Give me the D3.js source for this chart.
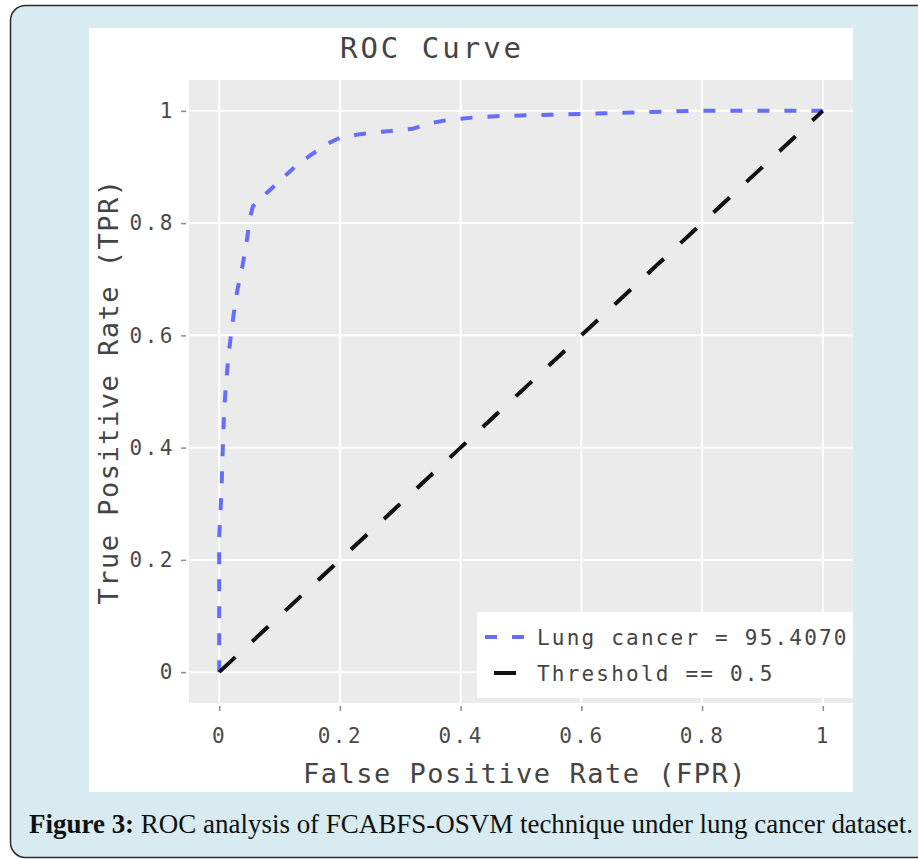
<!DOCTYPE html>
<html>
<head>
<meta charset="utf-8">
<script src="https://cdn.jsdelivr.net/npm/d3@7"></script>
<style>
    body { margin: 0; background: #fff; }
    svg { display: block; }
</style>
</head>
<body>
<svg id="RocChart"></svg>
<script>
// values
let fprValues = [0, 0, 0.002, 0.004, 0.006, 0.008, 0.011, 0.016, 0.023, 0.03, 0.038, 0.046, 0.051, 0.056,
    0.07, 0.085, 0.105, 0.125, 0.15, 0.18, 0.2, 0.23, 0.27, 0.32, 0.35, 0.38, 0.42, 0.47, 0.55, 0.65, 0.75, 0.8, 1];
let tprValues = [0, 0.24, 0.28, 0.33, 0.40, 0.46, 0.51, 0.57, 0.63, 0.68, 0.72, 0.77, 0.81, 0.83,
    0.845, 0.86, 0.88, 0.9, 0.92, 0.942, 0.952, 0.958, 0.963, 0.968, 0.978, 0.984, 0.988, 0.991, 0.993, 0.996, 0.999, 1, 1];
let thresholdX = [0, 1];
let thresholdY = [0, 1];

let xTickValues = [0, 0.2, 0.4, 0.6, 0.8, 1];
let xTickLabels = ["0", "0.2", "0.4", "0.6", "0.8", "1"];
let yTickValues = [0, 0.2, 0.4, 0.6, 0.8, 1];
let yTickLabels = ["0", "0.2", "0.4", "0.6", "0.8", "1"];

let seriesNames = ["Lung cancer = 95.4070", "Threshold == 0.5"];
let seriesColors = ["#636efa", "#111111"];
let seriesDashes = ["12,15", "22,23"];

let chartTitle = "ROC Curve";
let xTitle = "False Positive Rate (FPR)";
let yTitle = "True Positive Rate (TPR)";
let captionBold = "Figure 3:";
let captionText = " ROC analysis of FCABFS-OSVM technique under lung cancer dataset.";

const MONO = "'DejaVu Sans Mono', 'Liberation Mono', monospace";

function getConfig() {
    let width = 918;
    let height = 859;
    // grey plotting panel
    let panel = { left: 189, top: 80, right: 853, bottom: 703 };
    let container = d3.select("#RocChart")
        .attr("width", width)
        .attr("height", height);
    return { width, height, panel, container };
}

function getScales(config) {
    let { panel } = config;
    let xScale = d3.scaleLinear()
        .domain([-0.05, 1.05])
        .range([panel.left, panel.right]);
    let yScale = d3.scaleLinear()
        .domain([-0.055, 1.055])
        .range([panel.bottom, panel.top]);
    return { xScale, yScale };
}

function drawFrame(config) {
    let { container } = config;
    container.append("rect")
        .attr("x", 10.5).attr("y", 5.5)
        .attr("width", 930).attr("height", 852)
        .attr("rx", 15)
        .attr("fill", "#d7ebf0")
        .attr("stroke", "#2b2b2b")
        .attr("stroke-width", 1.5);

    container.append("rect")
        .attr("x", 89).attr("y", 28)
        .attr("width", 764).attr("height", 764)
        .attr("fill", "#ffffff");

    let caption = container.append("text")
        .attr("x", 29)
        .attr("y", 833)
        .attr("font-family", "'Liberation Serif', 'DejaVu Serif', serif")
        .attr("font-size", 27)
        .attr("textLength", 884)
        .attr("lengthAdjust", "spacingAndGlyphs")
        .attr("fill", "#111");
    caption.append("tspan").attr("font-weight", "bold").text(captionBold);
    caption.append("tspan").text(captionText);
}

function drawPanel(scales, config) {
    let { container, panel } = config;
    let { xScale, yScale } = scales;

    container.append("rect")
        .attr("x", panel.left).attr("y", panel.top)
        .attr("width", panel.right - panel.left)
        .attr("height", panel.bottom - panel.top)
        .attr("fill", "#ebebeb");

    let grid = container.append("g");
    grid.selectAll(".vgrid")
        .data(xTickValues)
        .enter().append("line")
        .attr("x1", d => xScale(d)).attr("x2", d => xScale(d))
        .attr("y1", panel.top).attr("y2", panel.bottom)
        .attr("stroke", "#fff").attr("stroke-width", 2);
    grid.selectAll(".hgrid")
        .data(yTickValues)
        .enter().append("line")
        .attr("y1", d => yScale(d)).attr("y2", d => yScale(d))
        .attr("x1", panel.left).attr("x2", panel.right)
        .attr("stroke", "#fff").attr("stroke-width", 2);
}

function drawAxes(scales, config) {
    let { container, panel } = config;
    let { xScale, yScale } = scales;

    let axisX = d3.axisBottom(xScale)
        .tickValues(xTickValues)
        .tickFormat((d, i) => xTickLabels[i])
        .tickSize(5)
        .tickPadding(17);
    let gx = container.append("g")
        .attr("transform", `translate(0,${panel.bottom + 3})`)
        .call(axisX);

    let axisY = d3.axisLeft(yScale)
        .tickValues(yTickValues)
        .tickFormat((d, i) => yTickLabels[i])
        .tickSize(5)
        .tickPadding(6);
    let gy = container.append("g")
        .attr("transform", `translate(${panel.left - 3},0)`)
        .call(axisY);

    [gx, gy].forEach(g => {
        g.select(".domain").remove();
        g.selectAll(".tick line").attr("stroke", "#8c8c8c").attr("stroke-width", 1.5);
        g.selectAll(".tick text")
            .attr("fill", "#4a4a4a")
            .style("font-family", MONO)
            .style("font-size", "21px")
            .style("letter-spacing", "2.5px");
    });

    container.append("text")
        .attr("x", 432).attr("y", 58)
        .attr("text-anchor", "middle")
        .style("font-family", MONO)
        .style("font-size", "29px")
        .style("letter-spacing", "3px")
        .attr("fill", "#444")
        .text(chartTitle);

    container.append("text")
        .attr("x", (panel.left + panel.right) / 2 + 4).attr("y", 783)
        .attr("text-anchor", "middle")
        .style("font-family", MONO)
        .style("font-size", "27px")
        .style("letter-spacing", "1.5px")
        .attr("fill", "#444")
        .text(xTitle);

    container.append("text")
        .attr("transform", `translate(118,${(panel.top + panel.bottom) / 2}) rotate(-90)`)
        .attr("text-anchor", "middle")
        .style("font-family", MONO)
        .style("font-size", "27px")
        .style("letter-spacing", "1.5px")
        .attr("fill", "#444")
        .text(yTitle);
}

function drawLines(scales, config) {
    let { container } = config;
    let { xScale, yScale } = scales;
    let line = d3.line()
        .x(d => xScale(d[0]))
        .y(d => yScale(d[1]));

    let series = [
        d3.zip(fprValues, tprValues),
        d3.zip(thresholdX, thresholdY)
    ];

    container.selectAll(".series")
        .data(series)
        .enter().append("path")
        .attr("class", "series")
        .attr("d", d => line(d))
        .attr("fill", "none")
        .attr("stroke", (d, i) => seriesColors[i])
        .attr("stroke-width", 4)
        .attr("stroke-dasharray", (d, i) => seriesDashes[i])
        .attr("stroke-linejoin", "round");
}

function drawLegend(config) {
    let { container } = config;
    let legend = container.append("g")
        .attr("transform", "translate(477,612)");

    legend.append("rect")
        .attr("width", 376).attr("height", 86)
        .attr("fill", "#fff");

    let items = legend.selectAll(".item")
        .data(seriesNames)
        .enter().append("g")
        .attr("transform", (d, i) => `translate(0,${25 + i * 36})`);

    items.append("line")
        .attr("x1", 8).attr("x2", 48)
        .attr("stroke", (d, i) => seriesColors[i])
        .attr("stroke-width", 4)
        .attr("stroke-dasharray", (d, i) => i === 0 ? "12,15" : "0,9,22,9");

    items.append("text")
        .attr("x", 60).attr("y", 8)
        .style("font-family", MONO)
        .style("font-size", "21px")
        .style("letter-spacing", "2.2px")
        .attr("fill", "#444")
        .text(d => d);
}

function showChart() {
    let config = getConfig();
    let scales = getScales(config);
    drawFrame(config);
    drawPanel(scales, config);
    drawLines(scales, config);
    drawLegend(config);
    drawAxes(scales, config);
}

showChart();
</script>
</body>
</html>
